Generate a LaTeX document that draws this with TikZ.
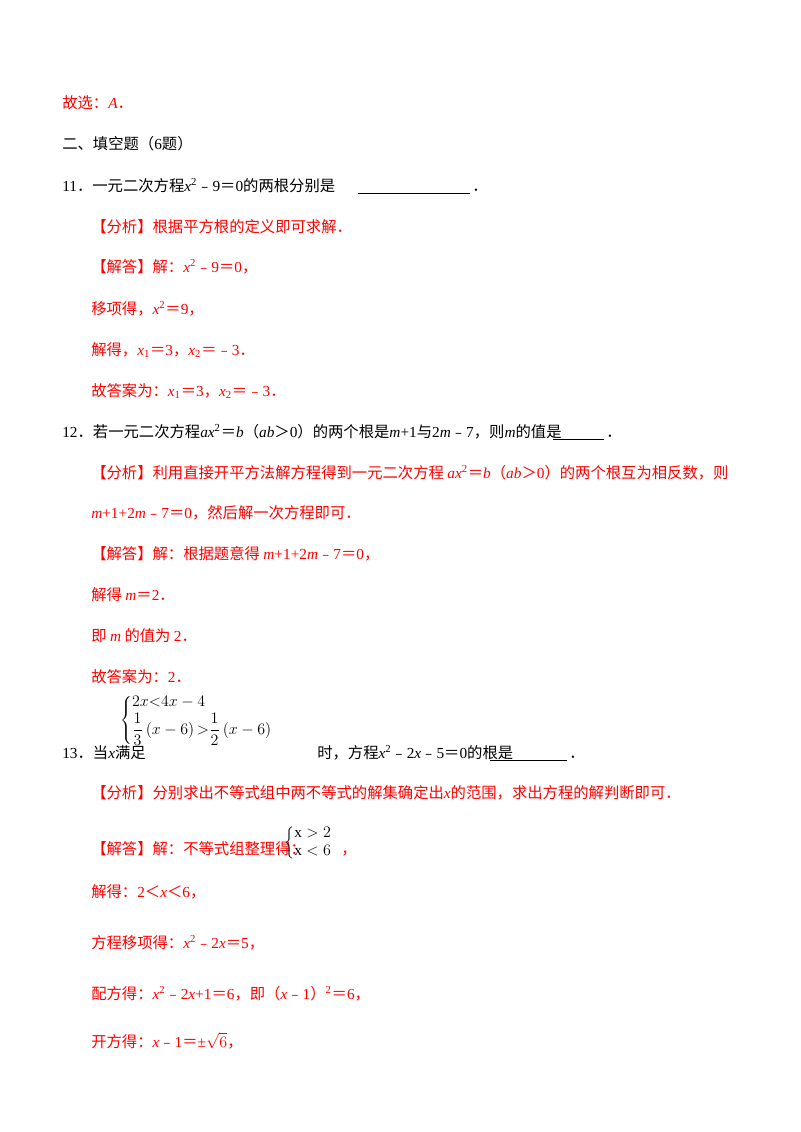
\documentclass[tikz,border=0pt]{standalone}
\usepackage{fontspec}
\setmainfont{Liberation Serif}
\newfontfamily\cjkf{Noto Sans CJK SC}
\newcommand{\zh}[1]{{\cjkf #1}}
\newcommand{\mi}[1]{\textit{#1}}
\newcommand{\sq}{\textsuperscript{2}}
\begin{document}
\begin{tikzpicture}[x=0.75pt,y=-0.75pt,
  t/.style={anchor=base west,inner sep=0pt,font=\fontsize{11.5}{13}\selectfont},
  r/.style={t,text=red}]
\useasboundingbox (0,0) rectangle (800,1132);
\node[r] (l1) at (62,108) {\zh{故选：}\mi{A}\zh{．}};
\node[t] (l2) at (62,149) {\zh{二、填空题（}6\zh{题）}};
\node[t] (l3) at (62,191) {11\zh{．一元二次方程}\mi{x}\sq\zh{﹣}9\zh{＝}0\zh{的两根分别是}};
\draw (358,193) -- (470,193);
\node[t] at (472,191) {\zh{．}};
\node[r] at (91,232) {\zh{【分析】根据平方根的定义即可求解．}};
\node[r] at (91,272) {\zh{【解答】解：}\mi{x}\sq\zh{﹣}9\zh{＝}0\zh{，}};
\node[r] at (91,314) {\zh{移项得，}\mi{x}\sq\zh{＝}9\zh{，}};
\node[r] at (91,355) {\zh{解得，}\mi{x}\textsubscript{1}\zh{＝}3\zh{，}\mi{x}\textsubscript{2}\zh{＝﹣}3\zh{．}};
\node[r] at (91,396) {\zh{故答案为：}\mi{x}\textsubscript{1}\zh{＝}3\zh{，}\mi{x}\textsubscript{2}\zh{＝﹣}3\zh{．}};
\node[t] at (62,437) {12\zh{．若一元二次方程}\mi{ax}\sq\zh{＝}\mi{b}\zh{（}\mi{ab}\zh{＞}0\zh{）的两个根是}\mi{m}+1\zh{与}2\mi{m}\zh{﹣}7\zh{，则}\mi{m}\zh{的值是}};
\draw (553,439) -- (604,439);
\node[t] at (606,437) {\zh{．}};
\node[r] at (91,478) {\zh{【分析】利用直接开平方法解方程得到一元二次方程 }\mi{ax}\sq\zh{＝}\mi{b}\zh{（}\mi{ab}\zh{＞}0\zh{）的两个根互为相反数，则}};
\node[r] at (91,518) {\mi{m}+1+2\mi{m}\zh{﹣}7\zh{＝}0\zh{，然后解一次方程即可．}};
\node[r] at (91,559) {\zh{【解答】解：根据题意得 }\mi{m}+1+2\mi{m}\zh{﹣}7\zh{＝}0\zh{，}};
\node[r] at (91,600) {\zh{解得 }\mi{m}\zh{＝}2\zh{．}};
\node[r] at (91,641) {\zh{即 }\mi{m}\zh{ 的值为 }2\zh{．}};
\node[r] at (91,682) {\zh{故答案为：}2\zh{．}};
\node[t,anchor=west] at (120,720) {$\left\{\begin{array}{@{}l@{}}2x{<}4x-4\\[1pt] \displaystyle\frac{1}{3}\left(x-6\right){>}\frac{1}{2}\left(x-6\right)\end{array}\right.$};
\node[t] at (62,758) {13\zh{．当}\mi{x}\zh{满足}};
\node[t] at (317,758) {\zh{时，方程}\mi{x}\sq\zh{﹣}2\mi{x}\zh{﹣}5\zh{＝}0\zh{的根是}};
\draw (490,760) -- (567,760);
\node[t] at (569,758) {\zh{．}};
\node[r] at (91,798) {\zh{【分析】分别求出不等式组中两不等式的解集确定出}\mi{x}\zh{的范围，求出方程的解判断即可．}};
\node[r] at (91,854) {\zh{【解答】解：不等式组整理得：}};
\node[t,anchor=west] at (284,843) {$\left\{\begin{array}{@{}l@{}}\mathrm{x}>2\\ \mathrm{x}<6\end{array}\right.$};
\node[r] at (341,854) {\zh{，}};
\node[r] at (91,897) {\zh{解得：}2\zh{＜}\mi{x}\zh{＜}6\zh{，}};
\node[r] at (91,948) {\zh{方程移项得：}\mi{x}\sq\zh{﹣}2\mi{x}\zh{＝}5\zh{，}};
\node[r] at (91,999) {\zh{配方得：}\mi{x}\sq\zh{﹣}2\mi{x}+1\zh{＝}6\zh{，即（}\mi{x}\zh{﹣}1\zh{）}\sq\zh{＝}6\zh{，}};
\node[r] at (91,1047) {\zh{开方得：}\mi{x}\zh{﹣}1\zh{＝}±$\sqrt{6}$\zh{，}};
\end{tikzpicture}
\end{document}
